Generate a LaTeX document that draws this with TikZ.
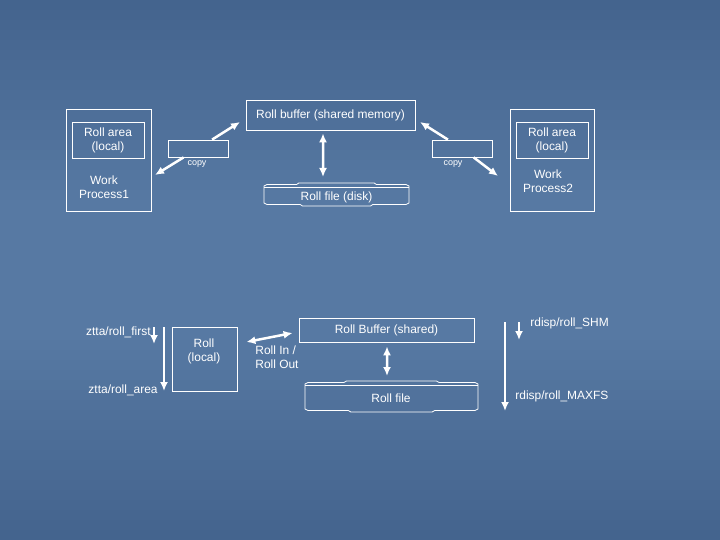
\documentclass[tikz,border=0pt]{standalone}
\usepackage{fontspec}
\setmainfont{Liberation Sans}
\usetikzlibrary{arrows.meta}
\definecolor{bgdark}{RGB}{68,100,142}
\definecolor{bglight}{RGB}{87,121,163}
% rim of a flat disk, drawn round the origin of the current scope
\newcommand{\diskrim}[2]{%
  \draw[white] (-#1,#2) -- (-#1,-#2) -- (-#1+3,-#2-1.5) -- (-0.55*#1,-#2-1.5)
    -- (-0.52*#1,-#2-3) -- (0.52*#1,-#2-3) -- (0.55*#1,-#2-1.5) -- (#1-3,-#2-1.5)
    -- (#1,-#2) -- (#1,#2) -- (#1-3,#2+1.5) -- (0.5*#1,#2+1.5) -- (0.47*#1,#2+3)
    -- (-0.47*#1,#2+3) -- (-0.5*#1,#2+1.5) -- (-#1+3,#2+1.5) -- cycle;
  \draw[white] (-#1,-#2+1) -- (#1,-#2+1);}

\begin{document}
\begin{tikzpicture}[x=1bp,y=-1bp,thick]
        %
        % `box' is for the framed areas, `txt' for loose text,
        % `arr' for the thick white arrows.
        \tikzstyle{box} = [draw=white,text=white,align=center,inner sep=0pt,font=\fontsize{12}{14}\selectfont]
        \tikzstyle{txt} = [text=white,align=center,inner sep=0pt,font=\fontsize{12}{14}\selectfont]
        \tikzstyle{small} = [text=white,inner sep=0pt,font=\fontsize{9}{10}\selectfont]
        \tikzstyle{arr} = [white,line width=2.5bp,>={Latex[length=9bp,width=8bp]}]
        %
        % Background, lighter towards the middle
        \useasboundingbox (0,0) rectangle (720,540);
        \foreach \i in {0,...,53} {
          \pgfmathsetmacro\p{min(100,130*(1-abs(\i-26.5)/26.5))}
          \fill[bglight!\p!bgdark] (0,\i*10) rectangle (720,\i*10+10.5);
        }
        %
        % Work process 1
        \node[box,minimum width=85bp,minimum height=102bp] (wp1) at (108.5,160) {};
        \node[box,minimum width=72bp,minimum height=36bp] (area1) at (108,140) {Roll area\\(local)};
        \node[txt] (wp1txt) at (104,187) {Work\\Process1};
        %
        % Work process 2
        \node[box,minimum width=84bp,minimum height=102bp] (wp2) at (552,160) {};
        \node[box,minimum width=72bp,minimum height=36bp] (area2) at (552,140) {Roll area\\(local)};
        \node[txt] (wp2txt) at (548,181) {Work\\Process2};
        %
        % Shared buffer and disk
        \node[box,minimum width=169bp,minimum height=30bp] (rollbuf) at (330.5,115) {Roll buffer (shared memory)};
        \node[txt] (file1) at (336.5,197) {Roll file (disk)};
        \begin{scope}[shift={(336.5,194.5)}]
        \diskrim{72.5}{8.5}
        \end{scope}
        \draw[arr,<->] ([xshift=-7.5bp,yshift=-3bp]rollbuf.south) -- (323,177);
        %
        % Copy boxes
        \node[box,minimum width=60bp,minimum height=17bp] (copyL) at (198,148.5) {};
        \node[small] (copyLtxt) at (197,164) {copy};
        \coordinate (cpL1) at (155,175);
        \coordinate (cpL2) at (240,122);
        \draw[arr,<-] (cpL1) -- (copyL);
        \draw[arr,->] (copyL) -- (cpL2);
        %
        \node[box,minimum width=60bp,minimum height=17bp] (copyR) at (462,148.5) {};
        \node[small] (copyRtxt) at (453,164) {copy};
        \coordinate (cpR1) at (420,122);
        \coordinate (cpR2) at (498,176);
        \draw[arr,<-] (cpR1) -- (copyR);
        \draw[arr,->] (copyR) -- (cpR2);
        %
        % Lower part: parameters
        \node[txt,anchor=east] (first) at (151,332) {ztta/roll\_first};
        \node[txt,anchor=east] (area) at (158,390) {ztta/roll\_area};
        \coordinate (zf1) at (154,327);
        \coordinate (zf2) at (154,344);
        \coordinate (za1) at (164,327);
        \coordinate (za2) at (164,391);
        \draw[arr,->] (zf1) -- (zf2);
        \draw[arr,->] (za1) -- (za2);
        %
        \node[box,minimum width=65bp,minimum height=64bp] (rolllocal) at (204.5,359) {};
        \node[txt] (rolllocaltxt) at (204,351) {Roll\\(local)};
        %
        \node[box,minimum width=175bp,minimum height=24bp] (rollbufB) at (386.5,330) {Roll Buffer (shared)};
        \node[txt] (file2) at (391,398) {Roll file};
        \begin{scope}[shift={(391.5,396.5)}]
        \diskrim{86.5}{12.5}
        \end{scope}
        \draw[arr,<->] ([xshift=0.5bp,yshift=-4bp]rollbufB.south) -- (387,376);
        %
        \draw[arr,<->] ([xshift=9bp,yshift=17bp]rolllocal.east) -- ([xshift=-6bp,yshift=-3bp]rollbufB.west);
        \node[txt,align=left,anchor=west] (rollinout) at (255,357) {Roll In /\\Roll Out};
        %
        \coordinate (rs1) at (519,322);
        \coordinate (rs2) at (519,340);
        \coordinate (rm1) at (505,322);
        \coordinate (rm2) at (505,411);
        \draw[arr,->] (rs1) -- (rs2);
        \draw[arr,->] (rm1) -- (rm2);
        \node[txt,anchor=west] (shm) at (530,323) {rdisp/roll\_SHM};
        \node[txt,anchor=west] (maxfs) at (515,396) {rdisp/roll\_MAXFS};
        %
\end{tikzpicture}
\end{document}
